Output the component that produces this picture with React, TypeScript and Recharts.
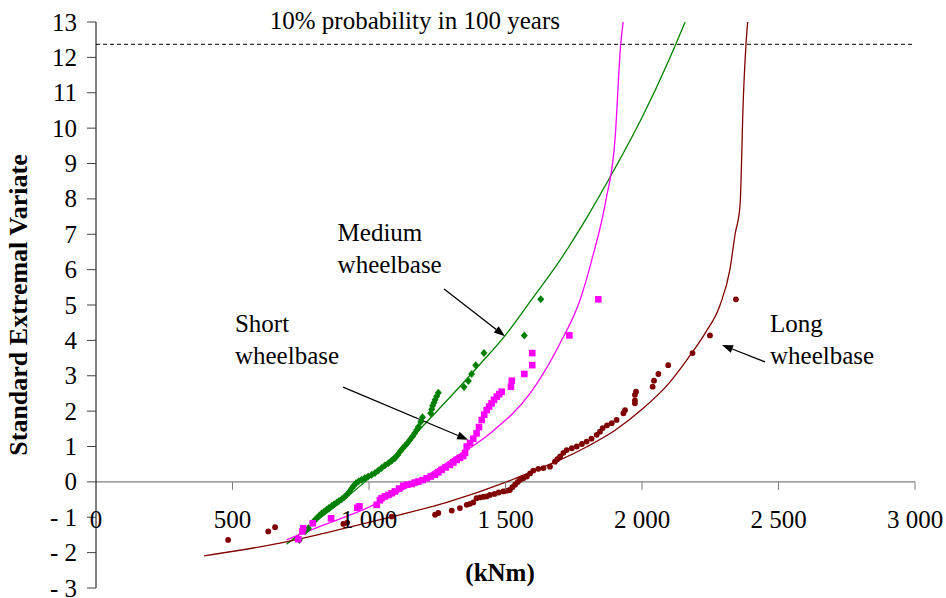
import {
  ComposedChart,
  Line,
  Scatter,
  XAxis,
  YAxis,
  ReferenceLine,
  ReferenceDot,
} from 'recharts';

// measured points, [kNm, standard extremal variate]
const mediumPoints = [
  [745, -1.64], [766, -1.4], [778, -1.31], [794, -1.15], [800, -1.1], [808, -1.03],
  [818, -0.95], [827, -0.89], [836, -0.84], [845, -0.79], [853, -0.74], [863, -0.68],
  [872, -0.63], [882, -0.58], [890, -0.54], [900, -0.49], [910, -0.43], [918, -0.37],
  [928, -0.28], [937, -0.18], [945, -0.1], [952, -0.04], [962, 0.02], [973, 0.06],
  [985, 0.11], [997, 0.15], [1010, 0.2], [1022, 0.25], [1034, 0.32], [1046, 0.39],
  [1058, 0.46], [1071, 0.53], [1083, 0.6], [1095, 0.67], [1105, 0.76], [1114, 0.86],
  [1123, 0.94], [1132, 1.02], [1141, 1.1], [1150, 1.19], [1160, 1.29], [1168, 1.38],
  [1175, 1.47], [1181, 1.56], [1190, 1.7], [1196, 1.83], [1226, 1.94], [1230, 2.05],
  [1233, 2.15], [1238, 2.24], [1242, 2.32], [1248, 2.42], [1254, 2.52], [1348, 2.68],
  [1364, 2.85], [1376, 3.05], [1391, 3.3], [1421, 3.64], [1569, 4.14], [1629, 5.16],
];

const shortPoints = [
  [741, -1.62], [756, -1.4], [759, -1.31], [794, -1.17], [861, -1.03], [957, -0.73],
  [965, -0.69], [1028, -0.65], [1040, -0.52], [1046, -0.46], [1058, -0.41], [1071, -0.37],
  [1083, -0.32], [1095, -0.27], [1110, -0.19], [1126, -0.11], [1140, -0.08], [1156, -0.06],
  [1168, -0.02], [1181, 0.01], [1196, 0.05], [1211, 0.1], [1226, 0.15], [1242, 0.2],
  [1254, 0.27], [1266, 0.34], [1281, 0.41], [1297, 0.48], [1309, 0.55], [1321, 0.62],
  [1333, 0.68], [1345, 0.73], [1352, 0.82], [1358, 1.0], [1370, 1.1], [1382, 1.22],
  [1394, 1.37], [1403, 1.55], [1413, 1.75], [1422, 1.9], [1431, 2.03], [1440, 2.13],
  [1449, 2.22], [1458, 2.32], [1468, 2.41], [1477, 2.48], [1486, 2.55], [1520, 2.69],
  [1523, 2.86], [1569, 3.05], [1598, 3.3], [1598, 3.64], [1734, 4.14], [1840, 5.16],
];

const longPoints = [
  [484, -1.64], [631, -1.4], [656, -1.28], [906, -1.19], [920, -1.15], [1083, -0.98],
  [1242, -0.93], [1254, -0.88], [1303, -0.81], [1333, -0.74], [1358, -0.65], [1370, -0.62],
  [1382, -0.58], [1394, -0.46], [1407, -0.44], [1420, -0.42], [1431, -0.41], [1443, -0.37],
  [1460, -0.34], [1475, -0.3], [1492, -0.27], [1504, -0.25], [1516, -0.23], [1525, -0.15],
  [1535, -0.08], [1545, 0.0], [1553, 0.06], [1565, 0.1], [1578, 0.15], [1590, 0.24],
  [1602, 0.32], [1620, 0.37], [1639, 0.39], [1663, 0.43], [1681, 0.57], [1690, 0.64],
  [1700, 0.72], [1712, 0.82], [1724, 0.9], [1743, 0.95], [1761, 1.0], [1780, 1.07],
  [1797, 1.14], [1815, 1.22], [1834, 1.33], [1846, 1.42], [1856, 1.52], [1872, 1.6],
  [1889, 1.66], [1907, 1.75], [1932, 1.94], [1938, 2.03], [1974, 2.22], [1974, 2.3],
  [1974, 2.46], [1978, 2.55], [2039, 2.69], [2044, 2.86], [2060, 3.05], [2096, 3.3],
  [2185, 3.64], [2249, 4.14], [2344, 5.16],
];

// fitted curves
const mediumFit = [
  [698, -1.76], [800, -1.15], [900, -0.55], [985, 0], [1050, 0.45], [1125, 0.98],
  [1200, 1.6], [1300, 2.42], [1400, 3.27], [1500, 4.15], [1600, 5.2], [1700, 6.27],
  [1800, 7.5], [1900, 8.85], [2000, 10.3], [2100, 11.95], [2158, 13.0],
];

const shortFit = [
  [698, -1.64], [821, -1.26], [1004, -0.7], [1175, 0], [1300, 0.62], [1443, 1.37],
  [1590, 2.5], [1700, 3.92], [1773, 5.14], [1816, 6.27], [1868, 7.97], [1901, 9.66],
  [1922, 12.37], [1931, 13.0],
];

const longFit = [
  [396, -2.09], [674, -1.73], [821, -1.48], [1040, -1.07], [1285, -0.58], [1504, 0],
  [1600, 0.3], [1700, 0.62], [1800, 1.0], [1900, 1.45], [2000, 2.05], [2100, 2.8],
  [2182, 3.64], [2231, 4.2], [2286, 5.0], [2322, 6.0], [2341, 7.0], [2359, 7.8],
  [2371, 10.8], [2381, 12.37], [2387, 13.0],
];

const xTicks = [0, 500, 1000, 1500, 2000, 2500, 3000];
const yTicks = [-3, -2, -1, 0, 1, 2, 3, 4, 5, 6, 7, 8, 9, 10, 11, 12, 13];
const probabilityLevel = 12.37;

const notes = [
  { lines: ['Medium', 'wheelbase'], x: 885, y: 7.07 },
  { lines: ['Short', 'wheelbase'], x: 509, y: 4.49 },
  { lines: ['Long', 'wheelbase'], x: 2469, y: 4.49 },
];

const arrows = [
  { from: [1275, 5.45], to: [1498, 4.12] },
  { from: [905, 2.68], to: [1363, 1.19] },
  { from: [2451, 3.39], to: [2293, 3.87] },
];

const toRows = (pts: number[][]) => pts.map(([x, y]) => ({ x, y }));

const W = 946;
const H = 598;
const X_AXIS_H = 10;
const MARGIN = { top: 22, right: 31, bottom: 0, left: 0 };
const Y_MIN = -3;
const Y_MAX = 13;
const PLOT_H = H - MARGIN.top - MARGIN.bottom - X_AXIS_H;
const AXIS_Y = MARGIN.top + (Y_MAX / (Y_MAX - Y_MIN)) * PLOT_H;

const FONT = '"Liberation Serif", "Times New Roman", Times, serif';

const fmtX = (v: number) =>
  v >= 1000 ? `${Math.floor(v / 1000)} ${String(v % 1000).padStart(3, '0')}` : String(v);
const fmtY = (v: number) => (v < 0 ? `- ${-v}` : String(v));

function XTick({ x, payload }: any) {
  return (
    <g>
      {payload.value > 0 && (
        <line x1={x} x2={x} y1={AXIS_Y} y2={AXIS_Y + 8} stroke="#808080" />
      )}
      <text
        x={x}
        y={AXIS_Y + 38}
        textAnchor="middle"
        dominantBaseline="central"
        style={{ fontFamily: FONT, fontSize: 25 }}
        fill="#000"
      >
        {fmtX(payload.value)}
      </text>
    </g>
  );
}

function YTick({ x, y, payload }: any) {
  return (
    <text
      x={x}
      y={y}
      textAnchor="end"
      dominantBaseline="central"
      style={{ fontFamily: FONT, fontSize: 25 }}
      fill="#000"
    >
      {fmtY(payload.value)}
    </text>
  );
}

function Arrow({ x1, y1, x2, y2 }: any) {
  const a = Math.atan2(y2 - y1, x2 - x1);
  const len = 11;
  const half = 4;
  const bx = x2 - len * Math.cos(a);
  const by = y2 - len * Math.sin(a);
  const px = -Math.sin(a) * half;
  const py = Math.cos(a) * half;
  return (
    <g>
      <line x1={x1} y1={y1} x2={bx} y2={by} stroke="#000" strokeWidth={1.3} />
      <polygon points={`${x2},${y2} ${bx + px},${by + py} ${bx - px},${by - py}`} fill="#000" />
    </g>
  );
}

const diamond = ({ cx, cy }: any) => (
  <polygon
    points={`${cx},${cy - 4} ${cx + 3.5},${cy} ${cx},${cy + 4} ${cx - 3.5},${cy}`}
    fill="#008000"
  />
);
const square = ({ cx, cy }: any) => (
  <rect x={cx - 3.3} y={cy - 3.3} width={6.6} height={6.6} fill="#FF00FF" />
);
const circle = ({ cx, cy }: any) => <circle cx={cx} cy={cy} r={2.9} fill="#800000" />;

export default function App() {
  return (
    <div
      style={{
        position: 'absolute',
        left: 0,
        top: 0,
        width: W,
        height: H,
        background: '#fff',
        fontFamily: FONT,
      }}
    >
      <ComposedChart width={W} height={H} margin={MARGIN} style={{ fontFamily: FONT }}>
        <XAxis
          type="number"
          dataKey="x"
          domain={[0, 3000]}
          ticks={xTicks}
          allowDataOverflow
          axisLine={false}
          tickLine={false}
          height={X_AXIS_H}
          tick={(p: any) => <XTick {...p} />}
          interval={0}
        />
        <YAxis
          type="number"
          dataKey="y"
          domain={[Y_MIN, Y_MAX]}
          ticks={yTicks}
          interval={0}
          allowDataOverflow
          width={96}
          tickSize={9}
          tickMargin={10}
          axisLine={{ stroke: '#000' }}
          tickLine={{ stroke: '#404040' }}
          tick={(p: any) => <YTick {...p} />}
          label={{
            value: 'Standard Extremal Variate',
            angle: -90,
            position: 'insideLeft',
            offset: 18,
            style: { textAnchor: 'middle', fontFamily: FONT, fontSize: 26, fontWeight: 'bold', fill: '#000' },
          }}
        />
        <ReferenceLine y={0} stroke="#808080" strokeWidth={1.3} />
        <ReferenceLine y={probabilityLevel} stroke="#000" strokeDasharray="4 3" />
        <ReferenceDot
          x={1168}
          y={probabilityLevel}
          r={0}
          ifOverflow="visible"
          shape={({ cx, cy }: any) => (
            <text x={cx} y={cy - 24} textAnchor="middle" dominantBaseline="central" style={{ fontFamily: FONT, fontSize: 25 }}>
              10% probability in 100 years
            </text>
          )}
        />

        <Line data={toRows(mediumFit)} dataKey="y" type="monotone" stroke="#008000" strokeWidth={1.3} dot={false} isAnimationActive={false} />
        <Line data={toRows(shortFit)} dataKey="y" type="monotone" stroke="#FF00FF" strokeWidth={1.3} dot={false} isAnimationActive={false} />
        <Line data={toRows(longFit)} dataKey="y" type="monotone" stroke="#800000" strokeWidth={1.3} dot={false} isAnimationActive={false} />

        <Scatter data={toRows(mediumPoints)} dataKey="y" shape={diamond} isAnimationActive={false} />
        <Scatter data={toRows(shortPoints)} dataKey="y" shape={square} isAnimationActive={false} />
        <Scatter data={toRows(longPoints)} dataKey="y" shape={circle} isAnimationActive={false} />

        {arrows.map((a, i) => (
          <ReferenceLine
            key={`arrow-${i}`}
            segment={[{ x: a.from[0], y: a.from[1] }, { x: a.to[0], y: a.to[1] }]}
            ifOverflow="visible"
            shape={(p: any) => <Arrow {...p} />}
          />
        ))}

        {notes.map((n, i) => (
          <ReferenceDot
            key={`note-${i}`}
            x={n.x}
            y={n.y}
            r={0}
            ifOverflow="visible"
            shape={({ cx, cy }: any) => (
              <text x={cx} y={cy} dominantBaseline="central" style={{ fontFamily: FONT, fontSize: 25 }} fill="#000">
                {n.lines.map((l, j) => (
                  <tspan key={j} x={cx} dy={j === 0 ? 0 : 32}>
                    {l}
                  </tspan>
                ))}
              </text>
            )}
          />
        ))}

        <ReferenceDot
          x={1480}
          y={-2.57}
          r={0}
          ifOverflow="visible"
          shape={({ cx, cy }: any) => (
            <text x={cx} y={cy} textAnchor="middle" dominantBaseline="central" style={{ fontFamily: FONT, fontSize: 25, fontWeight: 'bold' }}>
              (kNm)
            </text>
          )}
        />
      </ComposedChart>
    </div>
  );
}
